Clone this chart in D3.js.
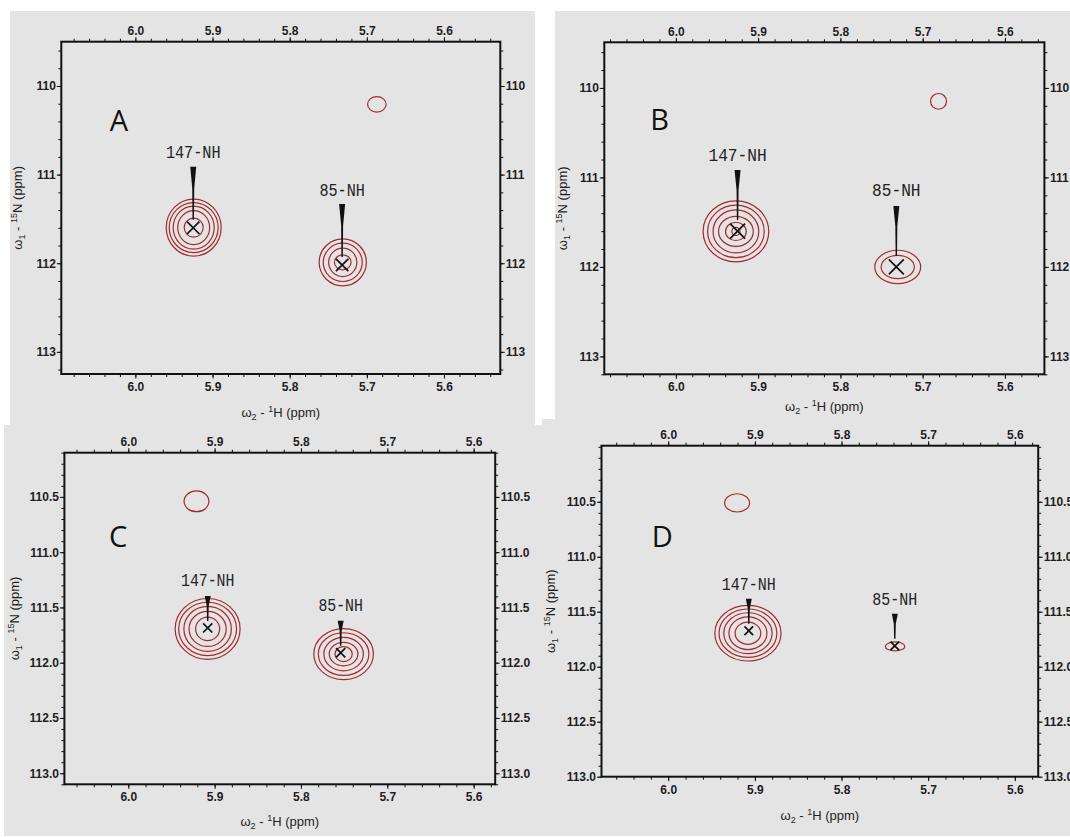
<!DOCTYPE html>
<html>
<head>
<meta charset="utf-8">
<script src="https://cdn.jsdelivr.net/npm/d3@7"></script>
<style>
  body { margin: 0; background: #fff; }
  svg { display: block; }
</style>
</head>
<body>
<svg id="fig" width="1070" height="837"></svg>
<script>
// spectra / panels
var panelNames = ["A", "B", "C", "D"];

// axis windows of each spectrum (ppm), 1H left->right, 15N top->bottom
var hRange = [[6.096, 5.527], [6.087, 5.552], [6.074, 5.575], [6.077, 5.573]];
var nRange = [[109.50, 113.25], [109.49, 113.20], [110.10, 113.10], [109.99, 113.00]];

// tick labels
var hTicks = [6.0, 5.9, 5.8, 5.7, 5.6];
var nTicks = [
  [110, 111, 112, 113],
  [110, 111, 112, 113],
  [110.5, 111.0, 111.5, 112.0, 112.5, 113.0],
  [110.5, 111.0, 111.5, 112.0, 112.5, 113.0]
];
var hMinorStep = 0.02;
var nMinorStep = [0.2, 0.2, 0.1, 0.1];

// assigned peaks
var peakLabels = ["147-NH", "85-NH"];
var peakH = [[5.925, 5.732], [5.925, 5.732], [5.908, 5.754], [5.907, 5.7385]];
var peakN = [[111.600, 112.020], [111.600, 112.000], [111.685, 111.910], [111.673, 111.810]];

// contour centres
var ringH = [[5.9244, 5.7312], [5.9270, 5.7303], [5.9081, 5.7506], [5.9080, 5.7382]];
var ringN = [[111.598, 111.990], [111.603, 112.000], [111.694, 111.922], [111.695, 111.815]];

// contour half widths [dH, dN] in ppm, outer -> inner
var rings147 = [
  [[0.0356, 0.322], [0.0317, 0.282], [0.0266, 0.243], [0.0207, 0.192], [0.0123, 0.107]],
  [[0.0399, 0.341], [0.0344, 0.293], [0.0278, 0.240], [0.0211, 0.168], [0.0126, 0.102], [0.0049, 0.045]],
  [[0.0376, 0.275], [0.0335, 0.241], [0.0275, 0.204], [0.0215, 0.159], [0.0139, 0.106]],
  [[0.0382, 0.253], [0.0334, 0.220], [0.0279, 0.186], [0.0219, 0.149], [0.0148, 0.101]]
];
var rings85 = [
  [[0.0306, 0.265], [0.0253, 0.216], [0.0183, 0.160], [0.0108, 0.085]],
  [[0.0279, 0.186], [0.0202, 0.130]],
  [[0.0345, 0.231], [0.0293, 0.193], [0.0229, 0.151], [0.0166, 0.106], [0.0100, 0.068]],
  [[0.0112, 0.041]]
];

// weak unassigned peak
var weakH = [5.687, 5.6807, 5.921, 5.9205];
var weakN = [110.207, 110.150, 110.540, 110.510];
var weakSize = [[0.0120, 0.088], [0.0097, 0.088], [0.0144, 0.094], [0.0144, 0.083]];

// page layout (px)
var layout = [
  {bg: [10, 11, 535, 425],   frame: [61.3, 41.7, 500.3, 374.0],  letter: [118.8, 131], tagUp: -75, wedge: [-61, -8],  cross: 6.2, charW: 9.1, yt: -39, xt: 43},
  {bg: [555, 11, 1070, 419], frame: [604.3, 42.3, 1044.4, 374.3], letter: [659.5, 130], tagUp: -76, wedge: [-61, -11], cross: 7.5, charW: 9.7, yt: -37, xt: 37},
  {bg: [4, 425, 542, 836],   frame: [64.4, 452.7, 495.2, 784.3],  letter: [118.1, 547], tagUp: -47, wedge: [-32, -7],  cross: 4.6, charW: 8.9, yt: -45, xt: 42},
  {bg: [542, 419, 1070, 836], frame: [601.5, 445.7, 1038.2, 776.7], letter: [662.3, 547], tagUp: -46.5, wedge: [-32, -7], cross: 4.3, charW: 9.0, yt: -47, xt: 43}
];

var tickFont = "'Liberation Sans Narrow', 'Liberation Sans', Arial, sans-serif";
var contourColor = "#a52a2d";

var svg = d3.select("#fig");

// backgrounds first
svg.selectAll("rect.bg")
  .data(layout)
  .enter().append("rect")
  .attr("class", "bg")
  .attr("x", function(d) { return d.bg[0]; })
  .attr("y", function(d) { return d.bg[1]; })
  .attr("width", function(d) { return d.bg[2] - d.bg[0]; })
  .attr("height", function(d) { return d.bg[3] - d.bg[1]; })
  .attr("fill", "#e4e4e4");

function styleAxis(sel) {
  sel.select(".domain").remove();
  sel.attr("font-family", tickFont)
    .attr("font-size", 12)
    .attr("font-weight", "bold");
  sel.selectAll("line").attr("stroke", "#111").attr("stroke-width", 1);
  sel.selectAll("text").attr("fill", "#1e1e1e");
}

function drawAxis(g, axisFn, scale, major, minorStep, fmt, transform, pad) {
  var span = Math.abs(scale.domain()[1] - scale.domain()[0]);
  var minor = scale.ticks(Math.round(span / minorStep));
  g.append("g").attr("transform", transform)
    .call(axisFn(scale).tickValues(minor).tickSize(3).tickFormat(""))
    .call(styleAxis);
  g.append("g").attr("transform", transform)
    .call(axisFn(scale).tickValues(major).tickSize(4.5).tickPadding(pad).tickFormat(fmt))
    .call(styleAxis);
}

panelNames.forEach(function(name, i) {
  var L = layout[i];
  var x = d3.scaleLinear().domain(hRange[i]).range([L.frame[0], L.frame[2]]);
  var y = d3.scaleLinear().domain(nRange[i]).range([L.frame[1], L.frame[3]]);
  var g = svg.append("g").attr("class", "panel-" + name);
  var nFmt = i < 2 ? d3.format("d") : d3.format(".1f");
  var hFmt = d3.format(".1f");

  // axes on all four sides
  drawAxis(g, d3.axisBottom, x, hTicks, hMinorStep, hFmt, "translate(0," + L.frame[3] + ")", 4);
  drawAxis(g, d3.axisTop, x, hTicks, hMinorStep, hFmt, "translate(0," + L.frame[1] + ")", 2);
  drawAxis(g, d3.axisLeft, y, nTicks[i], nMinorStep[i], nFmt, "translate(" + L.frame[0] + ",0)", 1);
  drawAxis(g, d3.axisRight, y, nTicks[i], nMinorStep[i], nFmt, "translate(" + L.frame[2] + ",0)", 1);

  // frame
  g.append("rect")
    .attr("x", L.frame[0]).attr("y", L.frame[1])
    .attr("width", L.frame[2] - L.frame[0]).attr("height", L.frame[3] - L.frame[1])
    .attr("fill", "none").attr("stroke", "#111").attr("stroke-width", 2);

  // axis titles
  var cx = (L.frame[0] + L.frame[2]) / 2, cy = (L.frame[1] + L.frame[3]) / 2;
  var xt = g.append("text")
    .attr("x", cx).attr("y", L.frame[3] + L.xt)
    .attr("text-anchor", "middle")
    .attr("font-family", tickFont).attr("font-size", 13).attr("fill", "#1e1e1e");
  xt.append("tspan").text("ω");
  xt.append("tspan").attr("font-size", 9).attr("dy", 3).text("2");
  xt.append("tspan").attr("dy", -3).text(" - ");
  xt.append("tspan").attr("font-size", 9).attr("dy", -5).text("1");
  xt.append("tspan").attr("dy", 5).text("H  (ppm)");

  var yt = g.append("text")
    .attr("transform", "translate(" + (L.frame[0] + L.yt) + "," + cy + ") rotate(-90)")
    .attr("text-anchor", "middle")
    .attr("font-family", tickFont).attr("font-size", 13).attr("fill", "#1e1e1e");
  yt.append("tspan").text("ω");
  yt.append("tspan").attr("font-size", 9).attr("dy", 3).text("1");
  yt.append("tspan").attr("dy", -3).text(" - ");
  yt.append("tspan").attr("font-size", 9).attr("dy", -5).text("15");
  yt.append("tspan").attr("dy", 5).text("N  (ppm)");

  // panel letter
  g.append("text")
    .attr("x", L.letter[0]).attr("y", L.letter[1])
    .attr("text-anchor", "middle")
    .attr("font-family", "'Open Sans', 'Noto Sans', sans-serif")
    .attr("font-size", 29).attr("fill", "#111")
    .text(name);

  // weak unassigned peak
  g.append("ellipse")
    .attr("cx", x(weakH[i])).attr("cy", y(weakN[i]))
    .attr("rx", Math.abs(x(weakH[i] + weakSize[i][0]) - x(weakH[i])))
    .attr("ry", Math.abs(y(weakN[i] + weakSize[i][1]) - y(weakN[i])))
    .attr("fill", "none").attr("stroke", contourColor).attr("stroke-width", 1.2);

  // assigned peaks
  var ringSets = [rings147[i], rings85[i]];
  peakLabels.forEach(function(lab, k) {
    var rh = ringH[i][k], rn = ringN[i][k];
    g.selectAll(null)
      .data(ringSets[k])
      .enter().append("ellipse")
      .attr("cx", x(rh)).attr("cy", y(rn))
      .attr("rx", function(d) { return Math.abs(x(rh + d[0]) - x(rh)); })
      .attr("ry", function(d) { return Math.abs(y(rn + d[1]) - y(rn)); })
      .attr("fill", "none").attr("stroke", contourColor).attr("stroke-width", 1.2);

    var px = x(peakH[i][k]), py = y(peakN[i][k]);

    // cross marker
    var c = L.cross;
    g.append("path")
      .attr("d", "M" + (px - c) + "," + (py - c) + "L" + (px + c) + "," + (py + c) +
                 "M" + (px - c) + "," + (py + c) + "L" + (px + c) + "," + (py - c))
      .attr("stroke", "#111").attr("stroke-width", 1.7).attr("fill", "none");

    // tapered pointer
    var top = py + L.wedge[0], bot = py + L.wedge[1], mid = top + 0.4 * (bot - top);
    g.append("path")
      .attr("d", "M" + (px - 3) + "," + top + "L" + (px + 3) + "," + top +
                 "L" + (px + 1) + "," + mid + "L" + (px + 0.7) + "," + bot +
                 "L" + (px - 0.7) + "," + bot + "L" + (px - 1) + "," + mid + "Z")
      .attr("fill", "#111");

    // label
    g.append("text")
      .attr("x", px).attr("y", py + L.tagUp + 5.5)
      .attr("text-anchor", "middle")
      .attr("font-family", "'Liberation Mono', 'DejaVu Sans Mono', monospace")
      .attr("font-size", 18)
      .attr("textLength", L.charW * lab.length)
      .attr("lengthAdjust", "spacingAndGlyphs")
      .attr("fill", "#222")
      .text(lab);
  });
});
</script>
</body>
</html>
